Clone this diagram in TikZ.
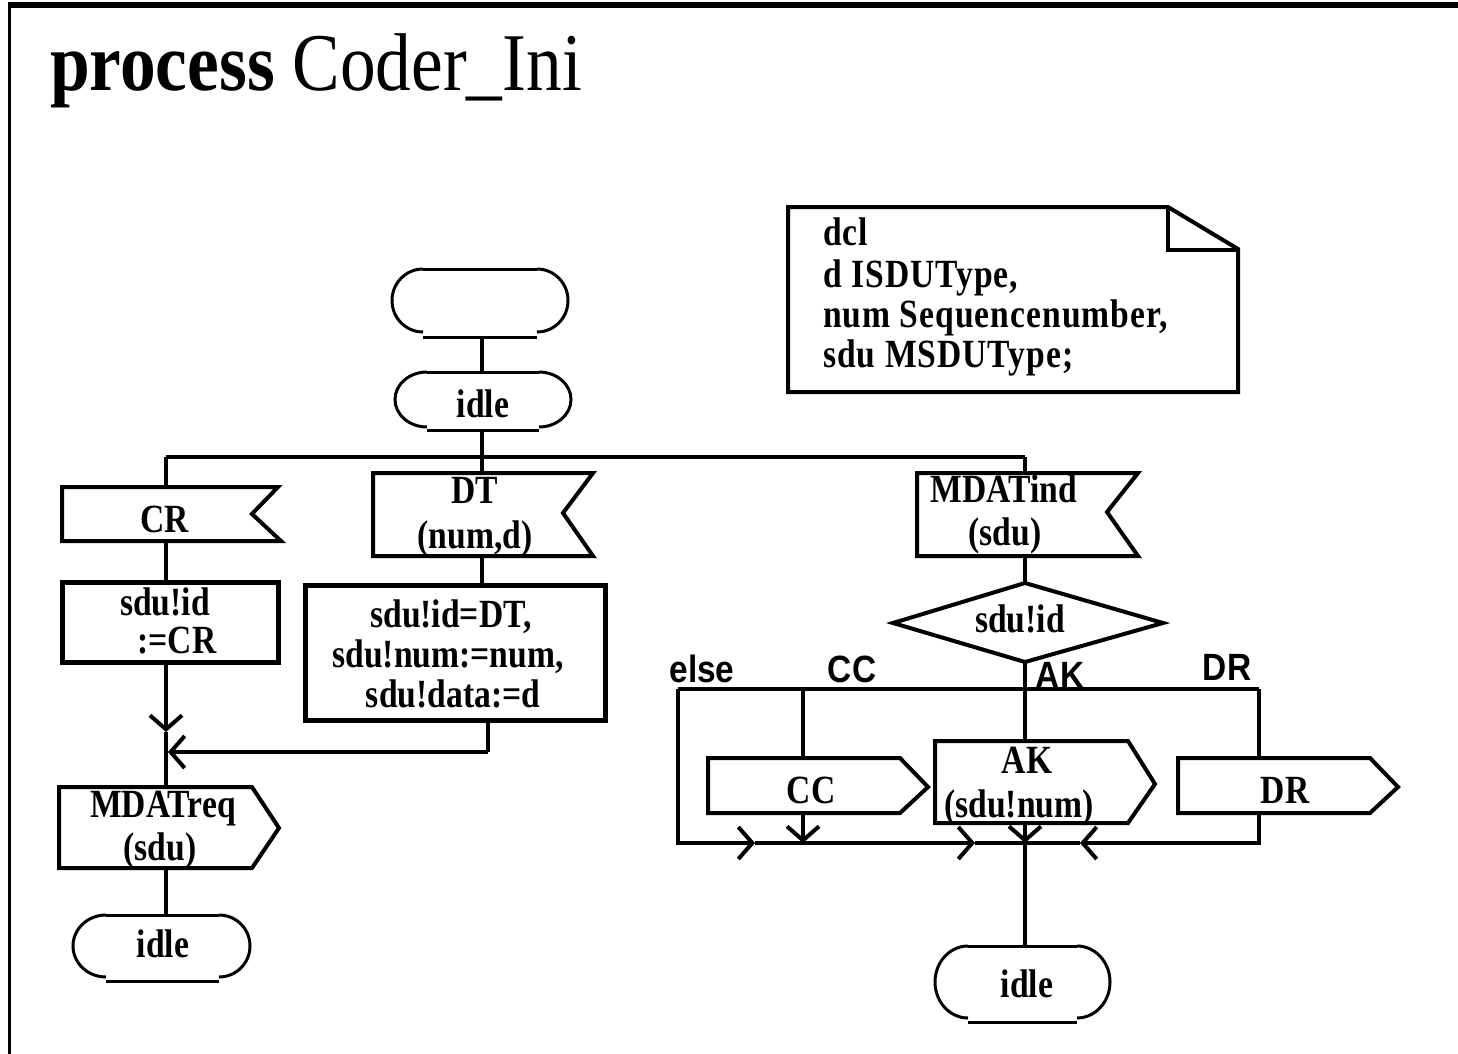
\documentclass[tikz,border=0pt]{standalone}
\usepackage{fontspec}
\setmainfont{Liberation Serif}
\newfontfamily\titlefont[FakeStretch=0.87]{Liberation Serif}
\newfontfamily\bodyfont[FakeStretch=0.84]{Liberation Serif}
\newfontfamily\notefont[FakeStretch=0.84,LetterSpace=2.5]{Liberation Serif}
\newfontfamily\labfont[FakeStretch=0.88]{Liberation Sans}
\usetikzlibrary{arrows.meta}
\begin{document}
\begin{tikzpicture}[x=1pt,y=-1pt,
  ln/.style={line width=4pt},
  thinln/.style={line width=3pt},
  taskln/.style={line width=5pt},
  tx/.style={font=\bodyfont\bfseries\fontsize{40}{44}\selectfont, inner sep=0pt, anchor=base},
  notetx/.style={font=\notefont\bfseries\fontsize{40}{44}\selectfont, inner sep=0pt, anchor=base west},
  lb/.style={font=\labfont\bfseries\fontsize{38}{42}\selectfont, inner sep=0pt, anchor=base},
  barb/.style={-{Straight Barb[length=14pt,width=32pt,line width=4pt]}},
  line join=miter]
\useasboundingbox (0,0) rectangle (1458,1054);
\fill[white] (0,0) rectangle (1458,1054);
% frame
\draw[line width=6pt] (8,5) -- (1458,5);
\draw[line width=3pt] (9,5) -- (9,1054);
\node[anchor=base west, inner sep=0pt, font=\titlefont\fontsize{82}{90}\selectfont] (title) at (50,91) {\textbf{process} Coder\_Ini};

% ---------- coordinates for connectors ----------
\coordinate (stB) at (482,337);
\coordinate (i1T) at (482,372);
\coordinate (i1B) at (482,430);
\coordinate (brL) at (166,457);
\coordinate (brM) at (482,457);
\coordinate (brR) at (1025,457);
\coordinate (crT) at (166,487);
\coordinate (crB) at (166,541);
\coordinate (crtT) at (166,582);
\coordinate (crtB) at (166,662);
\coordinate (arrA) at (166,732);
\coordinate (dtT) at (482,473);
\coordinate (dtB) at (482,556);
\coordinate (dttT) at (482,585);
\coordinate (dttB) at (488,720);
\coordinate (dtC) at (488,752);
\coordinate (arrB) at (168,752);
\coordinate (mqT) at (166,787);
\coordinate (mqB) at (166,868);
\coordinate (i2T) at (166,915);
\coordinate (miT) at (1025,473);
\coordinate (miB) at (1025,556);
\coordinate (dmT) at (1025,583);
\coordinate (dmB) at (1025,662);
\coordinate (dbL) at (678,689);
\coordinate (dbC) at (803,689);
\coordinate (dbA) at (1025,689);
\coordinate (dbR) at (1259,689);
\coordinate (mgL) at (678,843);
\coordinate (mgE) at (755,843);
\coordinate (mgF) at (975,843);
\coordinate (mgC) at (803,843);
\coordinate (mgA) at (1025,843);
\coordinate (mgD) at (1080,843);
\coordinate (mgR) at (1259,843);
\coordinate (ccT) at (803,758);
\coordinate (ccB) at (803,813);
\coordinate (akT) at (1025,741);
\coordinate (akB) at (1025,823);
\coordinate (drT) at (1259,758);
\coordinate (drB) at (1259,813);
\coordinate (i3T) at (1025,946);

% ---------- start symbol ----------
\draw[thinln] (423,269) -- (537,269);
\draw[thinln] (423,269) arc[start angle=270,end angle=90,x radius=31,y radius=31.5];
\draw[thinln] (537,269) arc[start angle=270,end angle=450,x radius=31,y radius=31.5];
\draw[thinln] (423,337) -- (537,337);

% ---------- idle 1 ----------
\draw[thinln] (427,372) -- (539,372);
\draw[thinln] (427,372) arc[start angle=270,end angle=90,x radius=32,y radius=27.5];
\draw[thinln] (539,372) arc[start angle=270,end angle=450,x radius=32,y radius=27.5];
\draw[thinln] (427,430) -- (539,430);
\node[tx] (idleA) at (483,417) {idle};

% ---------- CR input ----------
\draw[ln] (62,487) -- (278,487) -- (252,514) -- (281,541) -- (62,541) -- cycle;
\node[tx] (crtx) at (165,532) {CR};
% CR task
\draw[taskln] (62,582) rectangle (278,662);
\node[tx] (crtA) at (165,615) {sdu!id};
\node[tx] (crtB2) at (177,653) {:=CR};

% ---------- DT input ----------
\draw[ln] (373,473) -- (593,473) -- (563,513) -- (593,556) -- (373,556) -- cycle;
\node[tx] (dtA) at (475,503) {DT};
\node[tx] (dtB2) at (475,548) {(num,d)};
% DT task
\draw[taskln] (305,585) rectangle (605,720);
\node[tx] (dttA) at (451,627) {sdu!id=DT,};
\node[tx] (dttB2) at (448,667) {sdu!num:=num,};
\node[tx] (dttC) at (453,707) {sdu!data:=d};

% ---------- MDATreq output ----------
\draw[ln] (59,787) -- (252,787) -- (279,828) -- (252,868) -- (59,868) -- cycle;
\node[tx] (mqA) at (163,817) {MDATreq};
\node[tx] (mqB2) at (160,860) {(sdu)};

% ---------- idle 2 ----------
\draw[thinln] (106,915) -- (219,915);
\draw[thinln] (106,915) arc[start angle=270,end angle=90,x radius=33,y radius=31];
\draw[thinln] (219,915) arc[start angle=270,end angle=450,x radius=31,y radius=31];
\draw[thinln] (106,981) -- (219,981);
\node[tx] (idleB) at (163,957) {idle};

% ---------- MDATind input ----------
\draw[ln] (917,473) -- (1138,473) -- (1107,512) -- (1138,556) -- (917,556) -- cycle;
\node[tx] (miA) at (1004,502) {MDATind};
\node[tx] (miB2) at (1005,545) {(sdu)};

% ---------- decision ----------
\draw[ln] (1025,583) -- (1163,623) -- (1025,662) -- (893,623) -- cycle;
\node[tx] (dmtx) at (1020,632) {sdu!id};
\node[lb] (lelse) at (702,682) {else};
\node[lb] (lcc) at (852,682) {CC};
\node[lb] (lak) at (1060,688) {AK};
\node[lb] (ldr) at (1227,680) {DR};

% ---------- CC output ----------
\draw[ln] (708,758) -- (900,758) -- (928,787) -- (900,813) -- (708,813) -- cycle;
\node[tx] (cctx) at (811,803) {CC};
% ---------- AK output ----------
\draw[ln] (935,741) -- (1128,741) -- (1155,784) -- (1128,823) -- (935,823) -- cycle;
\node[tx] (akA) at (1027,773) {AK};
\node[tx] (akB2) at (1019,817) {(sdu!num)};
% ---------- DR output ----------
\draw[ln] (1178,758) -- (1370,758) -- (1398,787) -- (1370,813) -- (1178,813) -- cycle;
\node[tx] (drtx) at (1285,803) {DR};

% ---------- idle 3 ----------
\draw[thinln] (968,946) -- (1077,946);
\draw[thinln] (968,946) arc[start angle=270,end angle=90,x radius=33,y radius=36];
\draw[thinln] (1077,946) arc[start angle=270,end angle=450,x radius=33,y radius=36];
\draw[thinln] (968,1022) -- (1077,1022);
\node[tx] (idleC) at (1027,997) {idle};

% ---------- note ----------
\draw[ln] (788,207) -- (1168,207) -- (1238,249) -- (1238,392) -- (788,392) -- cycle;
\draw[ln] (1168,207) -- (1168,250) -- (1238,250);
\node[notetx] (nA) at (823,245) {dcl};
\node[notetx] (nB) at (823,287) {d ISDUType,};
\node[notetx] (nC) at (823,327) {num Sequencenumber,};
\node[notetx] (nD) at (823,367) {sdu MSDUType;};

% ---------- connectors ----------
\draw[ln] (stB) -- (i1T);
\draw[ln] (i1B) -- (brM);
\draw[ln] (brL) -- (brR);
\draw[ln] (brL) -- (crT);
\draw[ln] (brM) -- (dtT);
\draw[ln] (brR) -- (miT);
\draw[ln] (crB) -- (crtT);
\draw[ln] (dtB) -- (dttT);
\draw[ln,barb] (crtB) -- (arrA);
\draw[ln] (arrA) -- (mqT);
\draw[ln] (dttB) -- (dtC);
\draw[ln,barb] (dtC) -- (arrB);
\draw[ln] (mqB) -- (i2T);
\draw[ln] (miB) -- (dmT);
\draw[ln] (dmB) -- (dbA);
\draw[ln] (dbL) -- (dbR);
\draw[ln] (dbC) -- (ccT);
\draw[ln] (dbA) -- (akT);
\draw[ln] (dbR) -- (drT);
\draw[ln,barb] (dbL) -- (mgL) -- (mgE);
\draw[ln,barb] (mgE) -- (mgF);
\draw[ln] (mgF) -- (mgA);
\draw[ln,barb] (ccB) -- (mgC);
\draw[ln,barb] (akB) -- (mgA);
\draw[ln,barb] (drB) -- (mgR) -- (mgD);
\draw[ln] (mgD) -- (mgA);
\draw[ln] (mgA) -- (i3T);
\end{tikzpicture}
\end{document}
